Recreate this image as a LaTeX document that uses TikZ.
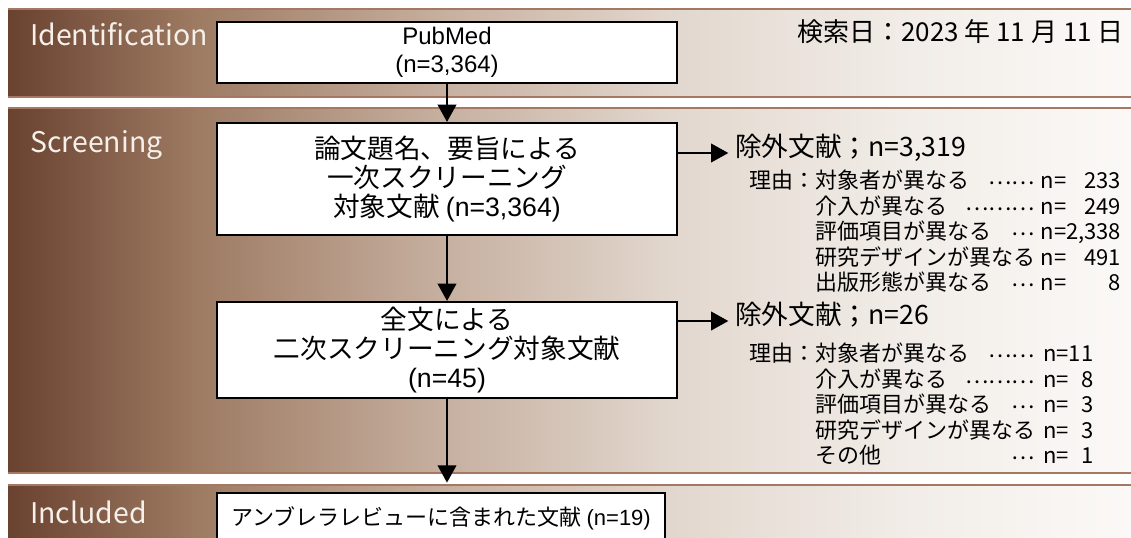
\documentclass[tikz,border=0pt]{standalone}
\usepackage{fontspec}
\setmainfont{Noto Sans CJK JP}
\newfontfamily\arialfont{Liberation Sans}
\usetikzlibrary{arrows.meta}
\definecolor{bandA}{RGB}{106,66,48}
\definecolor{bandB}{RGB}{158,123,99}
\definecolor{bandC}{RGB}{197,174,158}
\definecolor{bandD}{RGB}{226,215,206}
\definecolor{bandE}{RGB}{241,236,231}
\definecolor{bandF}{RGB}{251,249,247}
\definecolor{bandline}{RGB}{165,120,100}
\definecolor{labeltext}{RGB}{246,240,234}
\pgfdeclarehorizontalshading{bandfade}{100bp}{color(0bp)=(bandA); color(25bp)=(bandA);
  color(33.5bp)=(bandB); color(44bp)=(bandC); color(54.5bp)=(bandD);
  color(64.7bp)=(bandE); color(75bp)=(bandF); color(100bp)=(bandF)}
\newcommand{\dotrun}[1]{\raisebox{0.35ex}{#1}}

\begin{document}
\begin{tikzpicture}[x=0.75pt,y=-0.75pt,
    band/.style={shading=bandfade},
    bandedge/.style={draw=bandline, line width=1pt},
    stagelabel/.style={anchor=base west, inner sep=0, text=labeltext,
                       font=\fontsize{21.3}{26}\selectfont},
    flowbox/.style={draw=black, line width=1.6pt, fill=white, align=center,
                    inner sep=0, minimum width=345pt},
    flowarrow/.style={line width=1.5pt, -{Triangle[length=13pt,width=14pt]}},
    exclhead/.style={anchor=mid west, inner sep=0, font=\fontsize{20}{24}\selectfont},
    reasonlist/.style={anchor=north west, inner sep=0,
                       font=\fontsize{16.5}{17}\selectfont}]
    \useasboundingbox (0,0) rectangle (1131,537);

    % stage bands
    \fill[band] (8,9) rectangle (1131,97);
    \draw[bandedge] (8,9) -- (1131,9) (8,97) -- (1131,97);
    \fill[band] (8,108) rectangle (1131,473);
    \draw[bandedge] (8,108) -- (1131,108) (8,473) -- (1131,473);
    \fill[band] (8,485) rectangle (1131,545);
    \draw[bandedge] (8,485) -- (1131,485);

    \node[stagelabel] (idstage) at (30,45) {Identification};
    \node[stagelabel] (screenstage) at (30,152) {Screening};
    \node[stagelabel] (inclstage) at (30,523) {Included};

    % flow boxes
    \node[flowbox,
          minimum height=45.75pt,
          font=\arialfont\fontsize{18}{21}\selectfont] (pubmed) at (447,52.5) {PubMed\\(n=3,364)};
    \node[flowbox,
          minimum height=84pt,
          font=\fontsize{20}{22}\selectfont] (firstscreen) at (447,179)
          {論文題名、要旨による\\一次スクリーニング\\対象文献 {\arialfont(n=3,364)}};
    \node[flowbox,
          minimum height=72pt,
          font=\fontsize{20}{22}\selectfont] (secondscreen) at (447,350)
          {全文による\\二次スクリーニング対象文献\\{\arialfont(n=45)}};
    \node[flowbox,
          minimum width=336pt,
          minimum height=37.5pt,
          font=\fontsize{16.5}{20}\selectfont] (included) at (441,518)
          {アンブレラレビューに含まれた文献 {\arialfont(n=19)}};

    \node[anchor=east, inner sep=0, font=\fontsize{19.5}{23}\selectfont] (searchdate) at (1124,32)
          {検索日：2023 年 11 月 11 日};

    % exclusions
    \node[exclhead] (excl1) at (735,153) {除外文献；n=3,319};
    \node[reasonlist] (reason1) at (749,170) {%
      \begin{tabular}{@{}l@{}l@{\hspace{4pt}}l@{}r@{}}
        理由：& 対象者が異なる\hfill\dotrun{……} & n= & 233\\
              & 介入が異なる\hfill\dotrun{………} & n= & 249\\
              & 評価項目が異なる\hfill\dotrun{…} & n= & 2,338\\
              & 研究デザインが異なる & n= & 491\\
              & 出版形態が異なる\hfill\dotrun{…} & n= & 8
      \end{tabular}};
    \node[exclhead] (excl2) at (735,321) {除外文献；n=26};
    \node[reasonlist] (reason2) at (749,343) {%
      \begin{tabular}{@{}l@{}l@{\hspace{6pt}}l@{}r@{}}
        理由：& 対象者が異なる\hfill\dotrun{……} & n= & 11\\
              & 介入が異なる\hfill\dotrun{………} & n= & 8\\
              & 評価項目が異なる\hfill\dotrun{…} & n= & 3\\
              & 研究デザインが異なる & n= & 3\\
              & その他\hfill\dotrun{…} & n= & 1
      \end{tabular}};

    % connectors
    \draw[flowarrow] (pubmed) -- (firstscreen);
    \draw[flowarrow] (firstscreen) -- (secondscreen);
    \draw[flowarrow, shorten >=7pt] (secondscreen.south) -- (secondscreen.south |- included.north);
    \draw[flowarrow, shorten >=5pt] (firstscreen.east |- excl1.mid west) -- (excl1.mid west);
    \draw[flowarrow, shorten >=5pt] (secondscreen.east |- excl2.mid west) -- (excl2.mid west);
\end{tikzpicture}
\end{document}
